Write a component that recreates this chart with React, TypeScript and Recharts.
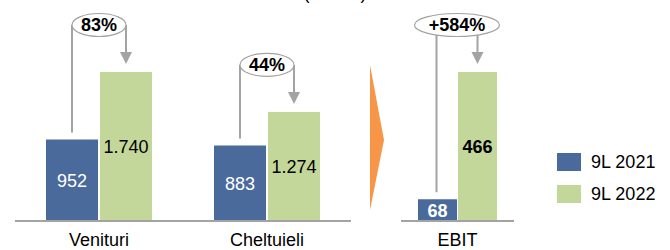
import React from 'react';
import { BarChart, Bar, XAxis, YAxis, LabelList } from 'recharts';

const categories = ['Venituri', 'Cheltuieli'];
const values2021 = [952, 883];
const values2022 = [1740, 1274];
const growthLabels = ['83%', '44%'];

const ebitCategories = ['EBIT'];
const ebit2021 = [68];
const ebit2022 = [466];
const ebitGrowth = ['+584%'];

const seriesNames = ['9L 2021', '9L 2022'];
const unitTitle = '(mil. lei)';

const BLUE = '#4a6a9c';
const GREEN = '#c4d79b';
const GRAY = '#a3a3a3';
const FONT = '"Liberation Sans", Arial, sans-serif';
const BAR_GAP = 2;

const mainData = categories.map((name, i) => ({
  name,
  v2021: values2021[i],
  v2022: values2022[i],
  growth: growthLabels[i],
}));

const ebitData = ebitCategories.map((name, i) => ({
  name,
  v2021: ebit2021[i],
  v2022: ebit2022[i],
  growth: ebitGrowth[i],
}));

// 1740 -> "1.740"
const fmt = (v: any) => Number(v).toLocaleString('de-DE');

// green bar + the growth "bubble" with its arrow
const GrowthBar = (props: any) => {
  const { x, y, width, height, payload } = props;
  const base = y + height;
  const blueTop = base - (payload.v2021 * height) / payload.v2022;
  const greenCx = x + width / 2;
  const blueCx = x - BAR_GAP - width / 2;
  const cx = (greenCx + blueCx) / 2;
  const cy = y - 47;
  const rx = Math.max((greenCx - blueCx) / 2, payload.growth.length * 8.5);
  const tip = y - 8;
  return (
    <g>
      <rect x={x} y={y} width={width} height={height} fill={GREEN} />
      <line x1={blueCx} y1={cy} x2={blueCx} y2={blueTop - 7} stroke={GRAY} strokeWidth={2} />
      <line x1={greenCx} y1={cy} x2={greenCx} y2={tip - 11} stroke={GRAY} strokeWidth={2} />
      <polygon points={`${greenCx - 6},${tip - 12} ${greenCx + 6},${tip - 12} ${greenCx},${tip}`} fill={GRAY} />
      <ellipse cx={cx} cy={cy} rx={rx} ry={11.5} fill="#fff" stroke={GRAY} strokeWidth={1.2} />
      <text x={cx} y={cy} textAnchor="middle" dominantBaseline="central" fontSize={18} fontWeight="bold" fill="#000">
        {payload.growth}
      </text>
    </g>
  );
};

const App: React.FC = () => {
  return (
    <div style={{ position: 'absolute', left: 0, top: 0, width: 670, height: 250, background: '#fff', fontFamily: FONT, overflow: 'hidden' }}>
      <svg width={670} height={250} style={{ position: 'absolute', left: 0, top: 0 }}>
        <text x={335} y={-1} textAnchor="middle" fontSize={18} fill="#000">{unitTitle}</text>
        <polygon points="370,65 384,140 370,210" fill="#f79646" />
      </svg>

      <div style={{ position: 'absolute', left: 0, top: 0 }}>
        <BarChart width={360} height={250} data={mainData} margin={{ top: 72, right: 9, bottom: 0, left: 15 }} barGap={BAR_GAP} barSize={52}>
          <XAxis dataKey="name" height={29} interval={0} tickLine={false} tickMargin={6}
            axisLine={{ stroke: GRAY, strokeWidth: 2 }} tick={{ fill: '#000', fontSize: 18 }} />
          <YAxis hide domain={[0, 1740]} />
          <Bar dataKey="v2021" fill={BLUE} isAnimationActive={false}>
            <LabelList dataKey="v2021" position="center" fill="#fff" fontSize={18} formatter={fmt} />
          </Bar>
          <Bar dataKey="v2022" fill={GREEN} isAnimationActive={false} shape={GrowthBar}>
            <LabelList dataKey="v2022" position="center" fill="#000" fontSize={18} formatter={fmt} />
          </Bar>
        </BarChart>
      </div>

      <div style={{ position: 'absolute', left: 360, top: 0 }}>
        <BarChart width={310} height={250} data={ebitData} margin={{ top: 72, right: 156, bottom: 0, left: 41 }} barGap={1} barSize={39}>
          <XAxis dataKey="name" height={29} interval={0} tickLine={false} tickMargin={6}
            axisLine={{ stroke: GRAY, strokeWidth: 2 }} tick={{ fill: '#000', fontSize: 18 }} />
          <YAxis hide domain={[0, 466]} />
          <Bar dataKey="v2021" fill={BLUE} isAnimationActive={false}>
            <LabelList dataKey="v2021" position="center" fill="#fff" fontSize={18} fontWeight="bold" formatter={fmt} />
          </Bar>
          <Bar dataKey="v2022" fill={GREEN} isAnimationActive={false} shape={GrowthBar}>
            <LabelList dataKey="v2022" position="center" fill="#000" fontSize={18} fontWeight="bold" formatter={fmt} />
          </Bar>
        </BarChart>
      </div>

      <div style={{ position: 'absolute', left: 557, top: 153, fontSize: 18, color: '#000', lineHeight: '18px' }}>
        {seriesNames.map((s, i) => (
          <div key={s} style={{ display: 'flex', alignItems: 'center', marginBottom: i === 0 ? 14 : 0 }}>
            <span style={{ display: 'inline-block', width: 24, height: 18, background: i === 0 ? BLUE : GREEN, marginRight: 10 }} />
            <span>{s}</span>
          </div>
        ))}
      </div>
    </div>
  );
};

export default App;
